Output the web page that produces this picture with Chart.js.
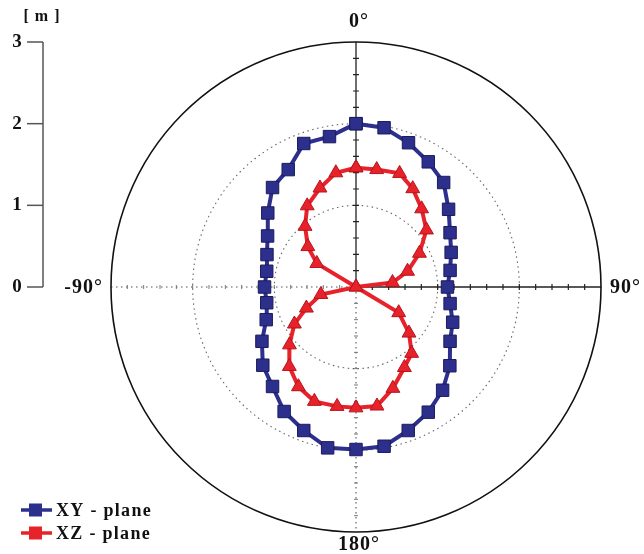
<!DOCTYPE html>
<html>
<head>
<meta charset="utf-8">
<script src="https://cdn.jsdelivr.net/npm/chart.js@4"></script>
<style>
  html, body { margin: 0; padding: 0; background: #fff; }
  #wrap { width: 644px; height: 554px; }
</style>
</head>
<body>
<div id="wrap"><canvas id="polarChart"></canvas></div>
<script>
// XY - plane: distance [m] every 10 degrees (0 = up, clockwise)
const xyAngles = [0, 10, 20, 30, 40, 50, 60, 70, 80, 90, 100, 110, 120, 130, 140, 150, 160, 170,
    180, 190, 200, 210, 220, 230, 240, 250, 260, 270, 280, 290, 300, 310, 320, 330, 340, 350, 360];
const xyRadius = [2.0, 1.98, 1.88, 1.77, 1.67, 1.48, 1.33, 1.24, 1.17, 1.12, 1.17, 1.26, 1.33, 1.50, 1.65, 1.77, 1.87, 1.98,
    1.99, 2.0, 1.87, 1.76, 1.59, 1.49, 1.33, 1.17, 1.11, 1.12, 1.11, 1.16, 1.25, 1.41, 1.59, 1.66, 1.87, 1.87, 2.0];

// XZ - plane: figure eight, points in the order they were traced
const xzAngles = [0, 10, 21, 30, 40, 51, 62, 73, 83, 90, 258, 247, 239, 229, 220, 210, 200, 189,
    180, 170, 160, 149, 140, 131, 121, 270, 301, 310, 320, 329, 340, 350, 360];
const xzRadius = [1.46, 1.46, 1.49, 1.39, 1.25, 1.11, 0.88, 0.66, 0.45, 0, 0.44, 0.66, 0.88, 1.08, 1.27, 1.41, 1.49, 1.48,
    1.48, 1.48, 1.32, 1.15, 1.06, 0.86, 0.61, 0, 0.56, 0.77, 0.97, 1.16, 1.29, 1.42, 1.46];

const seriesNames = ['XY - plane', 'XZ - plane'];
const rangeTicks = [0, 1, 2, 3];
const angleTicks = [
    { deg: 0, text: '0°' },
    { deg: 90, text: '90°' },
    { deg: 180, text: '180°' },
    { deg: 270, text: '-90°' }
];

const NAVY = '#2d2f8c';
const RED = '#e8222b';
const SERIF = '"Liberation Serif", "DejaVu Serif", serif';

function toXY(angles, radius) {
    return angles.map((a, i) => {
        const rad = a * Math.PI / 180;
        return { x: radius[i] * Math.sin(rad), y: radius[i] * Math.cos(rad) };
    });
}

// polar grid, crosshair axes, range axis and legend
const polarFrame = {
    id: 'polarFrame',
    beforeDatasetsDraw(chart) {
        const ctx = chart.ctx;
        const sx = chart.scales.x, sy = chart.scales.y;
        const cx = sx.getPixelForValue(0), cy = sy.getPixelForValue(0);
        const unit = sx.getPixelForValue(1) - cx;
        const maxR = rangeTicks[rangeTicks.length - 1];

        ctx.save();
        // dotted rings
        ctx.strokeStyle = '#666';
        ctx.lineWidth = 1.1;
        ctx.setLineDash([1.5, 3.5]);
        rangeTicks.slice(1, -1).forEach(v => {
            ctx.beginPath();
            ctx.arc(cx, cy, v * unit, 0, Math.PI * 2);
            ctx.stroke();
        });

        // crosshair: left and lower halves dotted
        ctx.strokeStyle = '#555';
        ctx.beginPath();
        ctx.moveTo(cx - maxR * unit, cy); ctx.lineTo(cx, cy);
        ctx.moveTo(cx, cy); ctx.lineTo(cx, cy + maxR * unit);
        ctx.stroke();
        ctx.setLineDash([]);
        // upper and right halves solid
        ctx.strokeStyle = '#222';
        ctx.lineWidth = 1.3;
        ctx.beginPath();
        ctx.moveTo(cx, cy); ctx.lineTo(cx + maxR * unit, cy);
        ctx.moveTo(cx, cy); ctx.lineTo(cx, cy - maxR * unit);
        ctx.stroke();

        // small ticks every 0.2 m
        for (let k = 1; k < maxR * 5; k++) {
            const d = k * 0.2 * unit;
            ctx.strokeStyle = '#222';
            ctx.lineWidth = 1.2;
            ctx.beginPath();
            ctx.moveTo(cx + d, cy - 3); ctx.lineTo(cx + d, cy + 3);
            ctx.moveTo(cx - 3, cy - d); ctx.lineTo(cx + 3, cy - d);
            ctx.stroke();
            ctx.strokeStyle = '#777';
            ctx.lineWidth = 1;
            ctx.beginPath();
            ctx.moveTo(cx - d, cy - 2); ctx.lineTo(cx - d, cy + 2);
            ctx.moveTo(cx - 2, cy + d); ctx.lineTo(cx + 2, cy + d);
            ctx.stroke();
        }

        // outer ring
        ctx.strokeStyle = '#111';
        ctx.lineWidth = 1.6;
        ctx.beginPath();
        ctx.arc(cx, cy, maxR * unit, 0, Math.PI * 2);
        ctx.stroke();

        // angle labels
        ctx.fillStyle = '#111';
        ctx.font = 'bold 20px ' + SERIF;
        ctx.letterSpacing = '1px';
        ctx.textBaseline = 'middle';
        angleTicks.forEach(t => {
            const rad = t.deg * Math.PI / 180;
            const gap = 14;
            const x = cx + Math.sin(rad) * (maxR * unit + gap);
            const y = cy - Math.cos(rad) * (maxR * unit + gap);
            if (t.deg === 90) { ctx.textAlign = 'left'; ctx.fillText(t.text, x - 5, y + 1); }
            else if (t.deg === 270) { ctx.textAlign = 'right'; ctx.fillText(t.text, x + 6, y + 1); }
            else { ctx.textAlign = 'center'; ctx.fillText(t.text, x + 3, y + (t.deg === 0 ? -6 : -1)); }
        });

        // range axis on the left
        const ax = 43;
        ctx.strokeStyle = '#555';
        ctx.lineWidth = 1.5;
        ctx.beginPath();
        ctx.moveTo(ax, sy.getPixelForValue(0));
        ctx.lineTo(ax, sy.getPixelForValue(maxR));
        ctx.stroke();
        ctx.textAlign = 'center';
        ctx.letterSpacing = '0px';
        ctx.font = 'bold 19px ' + SERIF;
        rangeTicks.forEach(v => {
            const y = sy.getPixelForValue(v);
            ctx.beginPath();
            ctx.moveTo(ax - 16, y); ctx.lineTo(ax, y);
            ctx.stroke();
            ctx.fillText(String(v), 17, y);
        });
        ctx.font = 'bold 16px ' + SERIF;
        ctx.letterSpacing = '1px';
        ctx.fillText('[ m ]', 42, 17);
        ctx.restore();
    },
    afterDraw(chart) {
        const ctx = chart.ctx;
        ctx.save();
        chart.data.datasets.forEach((ds, i) => {
            const y = 510 + i * 23;
            ctx.strokeStyle = ds.borderColor;
            ctx.lineWidth = 3.5;
            ctx.beginPath();
            ctx.moveTo(21, y); ctx.lineTo(52, y);
            ctx.stroke();
            ctx.fillStyle = ds.backgroundColor;
            ctx.fillRect(29, y - 6.5, 13, 13);
            ctx.fillStyle = '#111';
            ctx.font = 'bold 18px ' + SERIF;
            ctx.letterSpacing = '1.3px';
            ctx.textAlign = 'left';
            ctx.textBaseline = 'middle';
            ctx.fillText(seriesNames[i], 56, y + 1);
        });
        ctx.restore();
    }
};

document.addEventListener('DOMContentLoaded', function() {
    const ctx = document.getElementById('polarChart').getContext('2d');
    new Chart(ctx, {
        type: 'scatter',
        data: {
            datasets: [{
                label: seriesNames[0],
                data: toXY(xyAngles, xyRadius),
                showLine: true,
                borderColor: NAVY,
                backgroundColor: NAVY,
                borderWidth: 4,
                pointStyle: 'rect',
                pointRadius: 8.8,
                pointBorderColor: '#1b1c5c',
                pointBorderWidth: 1
            }, {
                label: seriesNames[1],
                data: toXY(xzAngles, xzRadius),
                showLine: true,
                borderColor: RED,
                backgroundColor: RED,
                borderWidth: 4,
                pointStyle: 'triangle',
                pointRadius: 8,
                pointBorderColor: '#b5141b',
                pointBorderWidth: 1
            }]
        },
        options: {
            responsive: true,
            maintainAspectRatio: false,
            animation: false,
            layout: { padding: { left: 111, right: 43, top: 42, bottom: 22 } },
            scales: {
                x: { type: 'linear', min: -3, max: 3, display: false },
                y: { type: 'linear', min: -3, max: 3, display: false }
            },
            plugins: {
                legend: { display: false },
                tooltip: { enabled: false }
            }
        },
        plugins: [polarFrame]
    });
});
</script>
</body>
</html>
